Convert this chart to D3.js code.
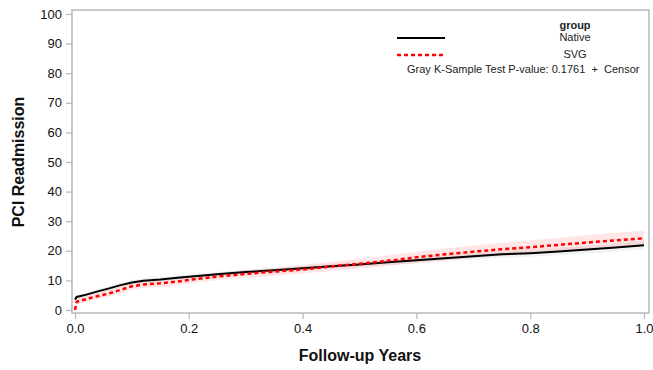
<!DOCTYPE html>
<html>
<head>
<meta charset="utf-8">
<script src="https://cdn.jsdelivr.net/npm/d3@7"></script>
<style>
  body { margin: 0; background: #fff; }
  svg { display: block; font-family: "Liberation Sans", Arial, sans-serif; }
</style>
</head>
<body>
<div id="chart"></div>
<script>
// follow-up time (years) at which the curves were read
let times = [0, 0.003, 0.02, 0.04, 0.06, 0.08, 0.10, 0.12, 0.15, 0.18, 0.21, 0.25, 0.30, 0.35,
    0.40, 0.45, 0.50, 0.55, 0.60, 0.65, 0.70, 0.75, 0.80, 0.85, 0.90, 0.95, 1.0];

let nativeVals = [3.5, 4.4, 5.2, 6.3, 7.3, 8.4, 9.3, 9.9, 10.3, 10.9, 11.4, 12.1, 12.8, 13.4,
    14.1, 14.8, 15.4, 16.1, 16.8, 17.5, 18.2, 18.8, 19.2, 19.8, 20.4, 21.1, 21.9];
let nativeLower = [2.8, 3.7, 4.5, 5.5, 6.5, 7.6, 8.5, 9.1, 9.5, 10.1, 10.6, 11.3, 12.0, 12.6,
    13.3, 13.9, 14.5, 15.2, 15.8, 16.4, 17.1, 17.6, 18.0, 18.5, 19.1, 19.7, 20.4];
let nativeUpper = [4.2, 5.1, 5.9, 7.1, 8.1, 9.2, 10.1, 10.7, 11.1, 11.7, 12.2, 12.9, 13.6, 14.2,
    14.9, 15.7, 16.3, 17.0, 17.8, 18.6, 19.3, 20.0, 20.4, 21.1, 21.7, 22.5, 23.4];

let svgVals = [0, 2.8, 3.7, 4.7, 5.6, 6.8, 8.0, 8.6, 9.0, 9.6, 10.4, 11.3, 12.2, 13.0,
    13.7, 14.7, 15.6, 16.6, 17.8, 18.8, 19.7, 20.5, 21.2, 22.0, 22.8, 23.5, 24.2];
let svgLower = [0, 1.9, 2.7, 3.6, 4.5, 5.6, 6.8, 7.4, 7.8, 8.4, 9.2, 10.1, 10.9, 11.6,
    12.3, 13.2, 14.0, 14.9, 15.9, 16.8, 17.6, 18.3, 18.9, 19.6, 20.3, 20.9, 21.5];
let svgUpper = [0, 3.8, 4.8, 5.9, 6.8, 8.1, 9.3, 9.9, 10.3, 10.9, 11.7, 12.6, 13.5, 14.4,
    15.2, 16.3, 17.3, 18.4, 19.7, 20.8, 21.8, 22.7, 23.5, 24.4, 25.3, 26.1, 26.9];

let xTicks = [0, 0.2, 0.4, 0.6, 0.8, 1.0];
let yTicks = [0, 10, 20, 30, 40, 50, 60, 70, 80, 90, 100];

let width = 653,
    height = 370;

let svg = d3.select('#chart').append('svg')
    .attr('width', width)
    .attr('height', height);

// frame of the plot area
let frame = { left: 72, right: 649, top: 10, bottom: 313 };

let x = d3.scaleLinear().domain([0, 1]).range([75, 644]);
let y = d3.scaleLinear().domain([0, 100]).range([310, 14]);

svg.append('rect')
    .attr('x', frame.left)
    .attr('y', frame.top)
    .attr('width', frame.right - frame.left)
    .attr('height', frame.bottom - frame.top)
    .attr('fill', 'none')
    .attr('stroke', '#b8b8b8')
    .attr('stroke-width', 1.5);

// y axis
let yAxis = svg.append('g')
    .attr('transform', 'translate(' + frame.left + ',0)')
    .call(d3.axisLeft(y).tickValues(yTicks).tickSize(6).tickPadding(4).tickFormat(d3.format('d')));
yAxis.select('.domain').remove();
yAxis.selectAll('line').attr('stroke', '#b8b8b8').attr('stroke-width', 1.2);
yAxis.selectAll('text')
    .attr('fill', '#111')
    .style('font-size', '13px')
    .style('font-family', '"Liberation Sans", Arial, sans-serif');

// x axis
let xAxis = svg.append('g')
    .attr('transform', 'translate(0,' + frame.bottom + ')')
    .call(d3.axisBottom(x).tickValues(xTicks).tickSize(6).tickPadding(5).tickFormat(d3.format('.1f')));
xAxis.select('.domain').remove();
xAxis.selectAll('line').attr('stroke', '#b8b8b8').attr('stroke-width', 1.2);
xAxis.selectAll('text')
    .attr('fill', '#111')
    .style('font-size', '13px')
    .style('font-family', '"Liberation Sans", Arial, sans-serif');

// axis titles
svg.append('text')
    .attr('transform', 'translate(24,162) rotate(-90)')
    .attr('text-anchor', 'middle')
    .style('font-size', '16px')
    .style('font-weight', 'bold')
    .attr('fill', '#111')
    .text('PCI Readmission');

svg.append('text')
    .attr('x', 360)
    .attr('y', 361)
    .attr('text-anchor', 'middle')
    .style('font-size', '16px')
    .style('font-weight', 'bold')
    .attr('fill', '#111')
    .text('Follow-up Years');

// confidence bands
let band = function(lo, hi) {
    return d3.area()
        .x(function(d, i) { return x(times[i]); })
        .y0(function(d, i) { return y(lo[i]); })
        .y1(function(d, i) { return y(hi[i]); })(times);
};

svg.append('path')
    .attr('d', band(nativeLower, nativeUpper))
    .attr('fill', '#000')
    .attr('fill-opacity', 0.05);

svg.append('path')
    .attr('d', band(svgLower, svgUpper))
    .attr('fill', '#ff0000')
    .attr('fill-opacity', 0.1);

// cumulative incidence curves
let curve = function(vals) {
    return d3.line()
        .x(function(d, i) { return x(times[i]); })
        .y(function(d, i) { return y(vals[i]); })(times);
};

svg.append('path')
    .attr('d', curve(nativeVals))
    .attr('fill', 'none')
    .attr('stroke', '#000')
    .attr('stroke-width', 2);

svg.append('path')
    .attr('d', curve(svgVals))
    .attr('fill', 'none')
    .attr('stroke', '#ff0000')
    .attr('stroke-width', 2.5)
    .attr('stroke-dasharray', '4,3');

// legend
let legend = svg.append('g');

legend.append('line')
    .attr('x1', 397).attr('x2', 445)
    .attr('y1', 38).attr('y2', 38)
    .attr('stroke', '#000')
    .attr('stroke-width', 2);

legend.append('line')
    .attr('x1', 397).attr('x2', 443)
    .attr('y1', 55).attr('y2', 55)
    .attr('stroke', '#ff0000')
    .attr('stroke-width', 2.5)
    .attr('stroke-dasharray', '4,3');

legend.append('text')
    .attr('x', 575).attr('y', 29)
    .attr('text-anchor', 'middle')
    .style('font-size', '11px')
    .style('font-weight', 'bold')
    .attr('fill', '#222')
    .text('group');

legend.append('text')
    .attr('x', 575).attr('y', 41)
    .attr('text-anchor', 'middle')
    .style('font-size', '11px')
    .attr('fill', '#222')
    .text('Native');

legend.append('text')
    .attr('x', 575).attr('y', 58)
    .attr('text-anchor', 'middle')
    .style('font-size', '11px')
    .attr('fill', '#222')
    .text('SVG');

legend.append('text')
    .attr('x', 407).attr('y', 73)
    .style('font-size', '11px')
    .style('white-space', 'pre')
    .attr('fill', '#222')
    .text('Gray K-Sample Test P-value: 0.1761  +  Censor');
</script>
</body>
</html>
